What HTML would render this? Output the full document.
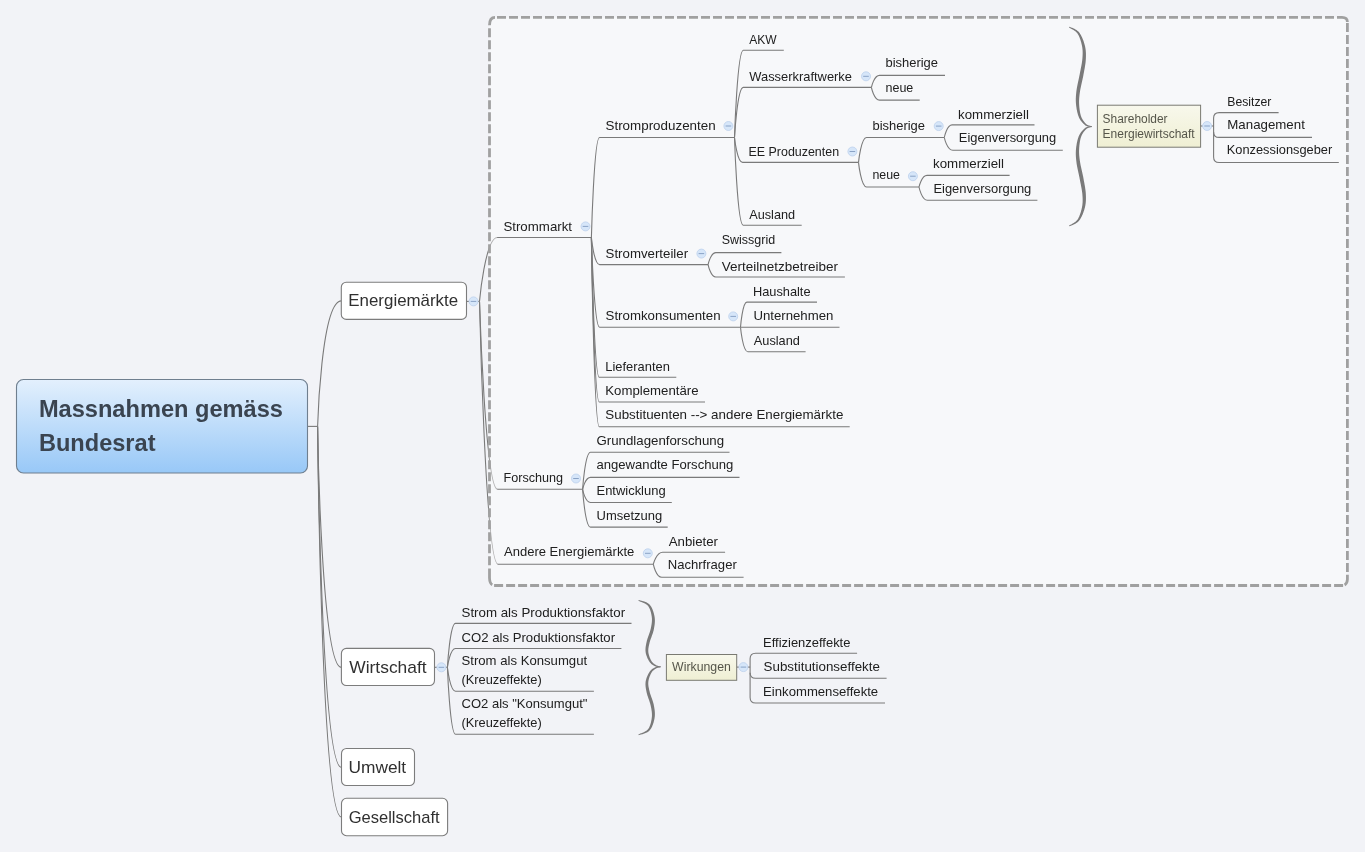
<!DOCTYPE html>
<html><head><meta charset="utf-8"><style>
html,body{margin:0;padding:0;background:#f2f3f7;overflow:hidden;}
svg{display:block;will-change:transform;}
text{font-family:"Liberation Sans",sans-serif;}
</style></head><body>
<svg width="1365" height="852" viewBox="0 0 1365 852">
<rect x="0" y="0" width="1365" height="852" fill="#f2f3f7"/>
<g fill="none" stroke="#7a7a7a" stroke-width="1.1">
<path d="M479.5,301.4 C479.5,301.4 485.2,237.5 497.4,237.5"/>
<path d="M479.5,301.4 C479.5,301.4 485.3,489.3 497.6,489.3"/>
<path d="M479.5,301.4 C479.5,301.4 485.4,564.2 498.0,564.2"/>
</g>
<rect x="489.5" y="17.4" width="857.9" height="568.1" rx="7" fill="#ffffff" fill-opacity="0.42"/><g fill="none" stroke="#a0a0a0" stroke-width="2.8"><path d="M497,17.4 L1337,17.4" stroke-dasharray="9 3"/><path d="M1337,17.4 L1342,17.4 Q1347.4,17.4 1347.4,22" /><path d="M1347.4,22.9 L1347.4,572" stroke-dasharray="9 3"/><path d="M1347.4,574.8 L1347.4,579.5 Q1347.2,583.6 1344.6,584.9" /><path d="M494.1,585.5 L1343.1,585.5" stroke-dasharray="9 3"/><path d="M489.5,28.3 L489.5,565.3" stroke-dasharray="9 3"/><path d="M489.5,568.5 L489.5,578 Q489.7,583.4 492.3,584.8" /><path d="M489.5,25.3 Q489.5,17.4 495,17.4" /></g>
<defs><linearGradient id="mg" x1="0" y1="0" x2="0" y2="1">
<stop offset="0" stop-color="#e3f0fd"/><stop offset="1" stop-color="#98c8f7"/></linearGradient>
<linearGradient id="fg" x1="0" y1="0" x2="0" y2="1"><stop offset="0" stop-color="#f8f8ec"/><stop offset="1" stop-color="#efefd3"/></linearGradient></defs>
<rect x="16.5" y="379.5" width="291" height="93.5" rx="7" ry="7" fill="url(#mg)" stroke="#6f7f8f" stroke-width="1.1"/>
<g fill="none" stroke="#7a7a7a" stroke-width="1.1">
<path d="M308,426.4 L317.6,426.4"/>
<path d="M317.6,426.4 C317.6,426.4 321.2,300.9 341.4,300.9"/>
<path d="M317.6,426.4 C317.6,426.4 321.2,667.4 341.4,667.4"/>
<path d="M317.6,426.4 C317.6,426.4 321.2,767.3 341.4,767.3"/>
<path d="M317.6,426.4 C317.6,426.4 321.2,817.0 341.4,817.0"/>
<path d="M466.5,301.4 L479.5,301.4"/>
<path d="M497.1,237.5 L591.4,237.5"/>
<path d="M497.3,489.3 L582.6,489.3"/>
<path d="M497.7,564.2 L653.3,564.2"/>
<path d="M591.4,237.5 C591.4,237.5 594.0,137.5 599.5,137.5 L734.5,137.5"/>
<path d="M591.4,237.5 C591.4,237.5 594.0,264.6 599.6,264.6 L708.1,264.6"/>
<path d="M591.4,237.5 C591.4,237.5 594.0,327.3 599.6,327.3 L740.5,327.3"/>
<path d="M591.4,237.5 C591.4,237.5 593.9,377.3 599.3,377.3 L676.3,377.3"/>
<path d="M591.4,237.5 C591.4,237.5 593.9,402.0 599.3,402.0 L705.0,402.0"/>
<path d="M591.4,237.5 C591.4,237.5 593.9,426.8 599.3,426.8 L849.7,426.8"/>
<path d="M734.5,137.5 C734.5,137.5 737.3,50.3 743.3,50.3 L783.8,50.3"/>
<path d="M734.5,137.5 C734.5,137.5 737.3,87.4 743.3,87.4 L871.4,87.4"/>
<path d="M734.5,137.5 C734.5,137.5 737.1,162.4 742.5,162.4 L858.5,162.4"/>
<path d="M734.5,137.5 C734.5,137.5 737.3,225.2 743.2,225.2 L801.7,225.2"/>
<path d="M871.4,87.4 C871.4,87.4 874.0,75.4 879.5,75.4 L945.0,75.4"/>
<path d="M871.4,87.4 C871.4,87.4 874.0,100.1 879.5,100.1 L919.7,100.1"/>
<path d="M858.5,162.4 C858.5,162.4 861.1,137.5 866.5,137.5 L944.3,137.5"/>
<path d="M858.5,162.4 C858.5,162.4 861.1,187.0 866.5,187.0 L919.0,187.0"/>
<path d="M944.3,137.5 C944.3,137.5 946.8,124.9 952.1,124.9 L1034.5,124.9"/>
<path d="M944.3,137.5 C944.3,137.5 947.0,150.3 952.8,150.3 L1062.8,150.3"/>
<path d="M919.0,187.0 C919.0,187.0 921.6,175.4 927.0,175.4 L1009.6,175.4"/>
<path d="M919.0,187.0 C919.0,187.0 921.7,200.3 927.4,200.3 L1037.4,200.3"/>
<path d="M708.1,264.6 C708.1,264.6 710.6,252.6 715.8,252.6 L781.4,252.6"/>
<path d="M708.1,264.6 C708.1,264.6 710.6,277.0 715.8,277.0 L844.9,277.0"/>
<path d="M740.5,327.3 C740.5,327.3 742.5,302.1 746.9,302.1 L817.0,302.1"/>
<path d="M740.5,327.3 L839.5,327.3"/>
<path d="M740.5,327.3 C740.5,327.3 742.8,351.7 747.8,351.7 L805.6,351.7"/>
<path d="M582.6,489.3 C582.6,489.3 585.1,452.2 590.5,452.2 L729.5,452.2"/>
<path d="M582.6,489.3 C582.6,489.3 585.1,477.4 590.5,477.4 L739.5,477.4"/>
<path d="M582.6,489.3 C582.6,489.3 585.1,502.5 590.5,502.5 L671.8,502.5"/>
<path d="M582.6,489.3 C582.6,489.3 585.1,527.1 590.5,527.1 L667.7,527.1"/>
<path d="M653.3,564.2 C653.3,564.2 656.3,552.3 662.7,552.3 L725.1,552.3"/>
<path d="M653.3,564.2 C653.3,564.2 656.0,577.3 661.7,577.3 L743.6,577.3"/>
<path d="M434.5,667.3 L447.4,667.3"/>
<path d="M447.4,667.3 C447.4,667.3 450.0,623.4 455.5,623.4 L631.5,623.4"/>
<path d="M447.4,667.3 C447.4,667.3 450.0,648.5 455.5,648.5 L621.4,648.5"/>
<path d="M447.4,667.3 C447.4,667.3 450.0,691.2 455.5,691.2 L593.9,691.2"/>
<path d="M447.4,667.3 C447.4,667.3 450.0,734.2 455.5,734.2 L593.9,734.2"/>
<path d="M1200.6,126.0 L1213.6,126.0"/>
<path d="M1213.6,126.0 L1213.6,118.1 Q1213.6,112.6 1219.1,112.6 L1278.6,112.6"/>
<path d="M1213.6,131.9 Q1213.6,137.4 1219.1,137.4 L1312.0,137.4"/>
<path d="M1213.6,126.0 L1213.6,157.0 Q1213.6,162.5 1219.1,162.5 L1338.8,162.5"/>
<path d="M736.7,667.1 L750.1,667.1"/>
<path d="M750.1,667.1 L750.1,658.8 Q750.1,653.3 755.6,653.3 L857.1,653.3"/>
<path d="M750.1,672.7 Q750.1,678.2 755.6,678.2 L886.6,678.2"/>
<path d="M750.1,667.1 L750.1,697.5 Q750.1,703.0 755.6,703.0 L885.0,703.0"/>
</g>
<rect x="341.3" y="282.2" width="125.2" height="37.2" rx="5" ry="5" fill="#ffffff" stroke="#7c7c7c" stroke-width="1.1"/>
<rect x="341.4" y="648.4" width="93.1" height="37.1" rx="5" ry="5" fill="#ffffff" stroke="#7c7c7c" stroke-width="1.1"/>
<rect x="341.5" y="748.5" width="73.0" height="37.0" rx="5" ry="5" fill="#ffffff" stroke="#7c7c7c" stroke-width="1.1"/>
<rect x="341.5" y="798.3" width="106.1" height="37.4" rx="5" ry="5" fill="#ffffff" stroke="#7c7c7c" stroke-width="1.1"/>
<rect x="1097.4" y="105.2" width="103.2" height="42" fill="url(#fg)" stroke="#7a7a72" stroke-width="1"/>
<rect x="666.4" y="654.5" width="70.3" height="25.8" fill="url(#fg)" stroke="#7a7a72" stroke-width="1"/>
<path d="M1069.00,27.44 L1069.24,27.63 L1069.54,27.82 L1069.89,28.02 L1070.27,28.24 L1070.68,28.46 L1071.12,28.70 L1071.59,28.95 L1072.07,29.22 L1072.57,29.50 L1073.07,29.79 L1073.58,30.10 L1074.09,30.42 L1074.59,30.75 L1075.07,31.10 L1075.54,31.47 L1075.99,31.84 L1076.41,32.23 L1076.80,32.63 L1077.16,33.04 L1077.48,33.46 L1077.78,33.92 L1078.08,34.42 L1078.37,34.95 L1078.66,35.51 L1078.94,36.10 L1079.22,36.71 L1079.48,37.34 L1079.74,37.99 L1079.98,38.65 L1080.22,39.33 L1080.45,40.01 L1080.67,40.70 L1080.88,41.40 L1081.07,42.09 L1081.26,42.79 L1081.44,43.48 L1081.60,44.16 L1081.76,44.83 L1081.90,45.48 L1082.03,46.12 L1082.14,46.75 L1082.25,47.36 L1082.34,47.97 L1082.41,48.57 L1082.48,49.17 L1082.53,49.77 L1082.58,50.37 L1082.61,50.97 L1082.64,51.57 L1082.65,52.18 L1082.66,52.79 L1082.65,53.40 L1082.64,54.02 L1082.62,54.65 L1082.60,55.28 L1082.57,55.93 L1082.53,56.59 L1082.48,57.26 L1082.43,57.94 L1082.38,58.63 L1082.32,59.32 L1082.24,60.01 L1082.16,60.72 L1082.06,61.44 L1081.96,62.17 L1081.84,62.91 L1081.72,63.65 L1081.59,64.41 L1081.45,65.17 L1081.31,65.94 L1081.17,66.72 L1081.01,67.50 L1080.86,68.29 L1080.70,69.08 L1080.55,69.88 L1080.39,70.68 L1080.23,71.49 L1080.07,72.30 L1079.92,73.11 L1079.77,73.92 L1079.61,74.72 L1079.45,75.54 L1079.28,76.37 L1079.11,77.21 L1078.93,78.07 L1078.74,78.93 L1078.55,79.80 L1078.36,80.67 L1078.17,81.55 L1077.98,82.43 L1077.79,83.30 L1077.61,84.18 L1077.43,85.05 L1077.26,85.91 L1077.10,86.76 L1076.95,87.60 L1076.80,88.43 L1076.67,89.25 L1076.55,90.05 L1076.45,90.83 L1076.36,91.58 L1076.28,92.30 L1076.20,93.02 L1076.13,93.71 L1076.06,94.40 L1076.00,95.07 L1075.95,95.74 L1075.91,96.39 L1075.87,97.04 L1075.84,97.69 L1075.82,98.33 L1075.80,98.97 L1075.80,99.60 L1075.80,100.24 L1075.81,100.88 L1075.83,101.52 L1075.86,102.16 L1075.90,102.81 L1075.94,103.46 L1076.00,104.12 L1076.07,104.79 L1076.14,105.47 L1076.23,106.15 L1076.32,106.85 L1076.42,107.54 L1076.52,108.24 L1076.64,108.95 L1076.76,109.65 L1076.90,110.35 L1077.04,111.04 L1077.19,111.73 L1077.35,112.42 L1077.52,113.09 L1077.70,113.75 L1077.88,114.40 L1078.08,115.03 L1078.29,115.65 L1078.50,116.25 L1078.73,116.83 L1078.96,117.39 L1079.21,117.93 L1079.48,118.46 L1079.76,118.97 L1080.06,119.47 L1080.36,119.96 L1080.68,120.43 L1081.00,120.89 L1081.34,121.33 L1081.67,121.76 L1082.02,122.17 L1082.36,122.57 L1082.71,122.95 L1083.06,123.31 L1083.41,123.66 L1083.76,123.99 L1084.11,124.31 L1084.45,124.61 L1084.79,124.89 L1085.11,125.15 L1085.44,125.41 L1085.79,125.65 L1086.16,125.87 L1086.53,126.06 L1086.91,126.22 L1087.28,126.36 L1087.66,126.47 L1088.04,126.57 L1088.40,126.65 L1088.77,126.72 L1089.12,126.77 L1089.46,126.81 L1089.79,126.84 L1090.11,126.87 L1090.40,126.89 L1090.68,126.91 L1090.94,126.92 L1091.17,126.94 L1091.37,126.95 L1091.55,126.97 L1091.70,126.99 L1091.90,126.21 L1091.73,126.15 L1091.53,126.09 L1091.30,126.04 L1091.06,125.99 L1090.81,125.93 L1090.53,125.88 L1090.25,125.83 L1089.95,125.76 L1089.65,125.70 L1089.34,125.62 L1089.02,125.54 L1088.71,125.45 L1088.39,125.34 L1088.08,125.22 L1087.78,125.09 L1087.48,124.95 L1087.19,124.79 L1086.92,124.62 L1086.66,124.43 L1086.40,124.21 L1086.14,123.96 L1085.86,123.69 L1085.57,123.41 L1085.28,123.10 L1084.99,122.78 L1084.70,122.45 L1084.40,122.10 L1084.11,121.74 L1083.82,121.37 L1083.53,120.98 L1083.25,120.58 L1082.97,120.17 L1082.70,119.74 L1082.44,119.31 L1082.19,118.86 L1081.96,118.41 L1081.73,117.95 L1081.51,117.48 L1081.32,117.00 L1081.13,116.51 L1080.96,116.01 L1080.79,115.47 L1080.64,114.92 L1080.49,114.34 L1080.34,113.75 L1080.21,113.13 L1080.08,112.51 L1079.96,111.86 L1079.85,111.21 L1079.75,110.55 L1079.66,109.89 L1079.57,109.21 L1079.49,108.54 L1079.41,107.86 L1079.35,107.19 L1079.29,106.52 L1079.24,105.85 L1079.19,105.19 L1079.15,104.54 L1079.12,103.91 L1079.10,103.28 L1079.08,102.67 L1079.07,102.06 L1079.07,101.46 L1079.08,100.87 L1079.10,100.27 L1079.12,99.68 L1079.15,99.08 L1079.19,98.49 L1079.23,97.89 L1079.28,97.28 L1079.34,96.67 L1079.40,96.05 L1079.47,95.42 L1079.55,94.77 L1079.63,94.11 L1079.72,93.44 L1079.82,92.75 L1079.92,92.05 L1080.03,91.33 L1080.15,90.60 L1080.27,89.85 L1080.42,89.08 L1080.57,88.28 L1080.74,87.47 L1080.91,86.65 L1081.09,85.81 L1081.28,84.96 L1081.47,84.10 L1081.66,83.24 L1081.86,82.37 L1082.06,81.49 L1082.25,80.62 L1082.45,79.74 L1082.64,78.87 L1082.83,78.00 L1083.01,77.14 L1083.18,76.28 L1083.34,75.44 L1083.49,74.61 L1083.64,73.80 L1083.79,73.00 L1083.94,72.19 L1084.08,71.39 L1084.23,70.58 L1084.38,69.78 L1084.53,68.98 L1084.67,68.18 L1084.81,67.38 L1084.94,66.58 L1085.07,65.79 L1085.19,65.00 L1085.31,64.21 L1085.42,63.43 L1085.52,62.65 L1085.61,61.88 L1085.69,61.11 L1085.75,60.35 L1085.81,59.60 L1085.85,58.86 L1085.88,58.14 L1085.91,57.43 L1085.93,56.73 L1085.94,56.05 L1085.95,55.37 L1085.95,54.69 L1085.94,54.03 L1085.93,53.36 L1085.90,52.70 L1085.86,52.05 L1085.82,51.39 L1085.76,50.74 L1085.69,50.09 L1085.61,49.44 L1085.52,48.79 L1085.41,48.13 L1085.29,47.48 L1085.16,46.82 L1085.01,46.15 L1084.85,45.49 L1084.67,44.82 L1084.48,44.13 L1084.28,43.44 L1084.06,42.73 L1083.83,42.02 L1083.59,41.31 L1083.34,40.59 L1083.07,39.87 L1082.79,39.16 L1082.50,38.46 L1082.20,37.76 L1081.89,37.07 L1081.57,36.40 L1081.23,35.74 L1080.89,35.10 L1080.53,34.49 L1080.17,33.90 L1079.79,33.33 L1079.41,32.79 L1079.00,32.28 L1078.57,31.79 L1078.10,31.33 L1077.60,30.89 L1077.07,30.49 L1076.53,30.11 L1075.98,29.76 L1075.41,29.43 L1074.85,29.12 L1074.28,28.83 L1073.72,28.56 L1073.17,28.31 L1072.63,28.08 L1072.11,27.86 L1071.61,27.66 L1071.15,27.48 L1070.71,27.30 L1070.32,27.15 L1069.97,27.00 L1069.66,26.87 L1069.40,26.76Z" fill="#7a7a7a"/>
<path d="M1069.40,226.34 L1069.66,226.23 L1069.97,226.10 L1070.32,225.95 L1070.71,225.80 L1071.15,225.62 L1071.61,225.44 L1072.11,225.24 L1072.63,225.02 L1073.17,224.79 L1073.72,224.54 L1074.28,224.27 L1074.85,223.98 L1075.41,223.67 L1075.98,223.34 L1076.53,222.99 L1077.07,222.61 L1077.60,222.21 L1078.10,221.78 L1078.57,221.32 L1079.00,220.83 L1079.41,220.32 L1079.79,219.78 L1080.17,219.21 L1080.53,218.62 L1080.89,218.00 L1081.23,217.37 L1081.57,216.71 L1081.89,216.04 L1082.20,215.35 L1082.50,214.66 L1082.79,213.95 L1083.07,213.24 L1083.34,212.52 L1083.59,211.81 L1083.83,211.09 L1084.06,210.38 L1084.28,209.68 L1084.48,208.98 L1084.67,208.30 L1084.85,207.63 L1085.01,206.97 L1085.16,206.30 L1085.29,205.65 L1085.41,204.99 L1085.52,204.34 L1085.61,203.69 L1085.69,203.03 L1085.76,202.38 L1085.82,201.73 L1085.86,201.08 L1085.90,200.42 L1085.93,199.76 L1085.94,199.10 L1085.95,198.43 L1085.95,197.76 L1085.94,197.08 L1085.93,196.40 L1085.91,195.70 L1085.88,195.00 L1085.85,194.28 L1085.81,193.53 L1085.75,192.78 L1085.69,192.02 L1085.61,191.26 L1085.52,190.48 L1085.42,189.71 L1085.31,188.93 L1085.19,188.14 L1085.07,187.35 L1084.94,186.56 L1084.81,185.76 L1084.67,184.97 L1084.53,184.17 L1084.38,183.36 L1084.23,182.56 L1084.08,181.76 L1083.94,180.95 L1083.79,180.15 L1083.64,179.35 L1083.49,178.54 L1083.34,177.71 L1083.18,176.87 L1083.01,176.01 L1082.83,175.15 L1082.64,174.28 L1082.45,173.41 L1082.25,172.54 L1082.06,171.66 L1081.86,170.79 L1081.66,169.92 L1081.47,169.05 L1081.28,168.20 L1081.09,167.35 L1080.91,166.51 L1080.74,165.69 L1080.57,164.88 L1080.42,164.09 L1080.27,163.31 L1080.15,162.57 L1080.03,161.84 L1079.92,161.12 L1079.82,160.41 L1079.72,159.72 L1079.63,159.05 L1079.55,158.40 L1079.47,157.75 L1079.40,157.12 L1079.34,156.50 L1079.28,155.89 L1079.23,155.28 L1079.19,154.68 L1079.15,154.09 L1079.12,153.49 L1079.10,152.90 L1079.08,152.31 L1079.07,151.71 L1079.07,151.11 L1079.08,150.51 L1079.10,149.90 L1079.12,149.27 L1079.15,148.64 L1079.19,147.99 L1079.24,147.33 L1079.29,146.66 L1079.35,145.99 L1079.41,145.32 L1079.49,144.64 L1079.57,143.97 L1079.66,143.30 L1079.75,142.63 L1079.85,141.97 L1079.96,141.32 L1080.08,140.68 L1080.21,140.05 L1080.34,139.44 L1080.49,138.85 L1080.64,138.27 L1080.79,137.72 L1080.96,137.18 L1081.13,136.68 L1081.32,136.19 L1081.51,135.71 L1081.73,135.24 L1081.96,134.78 L1082.19,134.33 L1082.44,133.88 L1082.70,133.45 L1082.97,133.03 L1083.25,132.62 L1083.53,132.22 L1083.82,131.83 L1084.11,131.45 L1084.40,131.09 L1084.70,130.75 L1084.99,130.41 L1085.28,130.09 L1085.57,129.79 L1085.86,129.51 L1086.14,129.24 L1086.40,128.99 L1086.66,128.77 L1086.92,128.58 L1087.19,128.41 L1087.48,128.25 L1087.78,128.10 L1088.08,127.97 L1088.39,127.86 L1088.71,127.75 L1089.02,127.66 L1089.34,127.58 L1089.65,127.50 L1089.95,127.44 L1090.25,127.37 L1090.53,127.32 L1090.81,127.27 L1091.06,127.21 L1091.30,127.16 L1091.53,127.11 L1091.73,127.05 L1091.90,126.99 L1091.70,126.21 L1091.55,126.23 L1091.37,126.25 L1091.17,126.26 L1090.94,126.28 L1090.68,126.29 L1090.40,126.31 L1090.11,126.33 L1089.79,126.36 L1089.46,126.39 L1089.12,126.43 L1088.77,126.48 L1088.40,126.55 L1088.04,126.63 L1087.66,126.73 L1087.29,126.84 L1086.91,126.98 L1086.53,127.14 L1086.16,127.33 L1085.79,127.55 L1085.45,127.79 L1085.12,128.04 L1084.79,128.31 L1084.45,128.59 L1084.11,128.89 L1083.76,129.20 L1083.41,129.53 L1083.06,129.88 L1082.71,130.25 L1082.36,130.63 L1082.02,131.02 L1081.67,131.43 L1081.34,131.86 L1081.00,132.30 L1080.68,132.76 L1080.36,133.23 L1080.06,133.72 L1079.76,134.22 L1079.48,134.73 L1079.21,135.26 L1078.96,135.80 L1078.73,136.36 L1078.50,136.94 L1078.29,137.54 L1078.08,138.16 L1077.88,138.79 L1077.70,139.44 L1077.52,140.10 L1077.35,140.77 L1077.19,141.45 L1077.04,142.14 L1076.90,142.83 L1076.76,143.53 L1076.64,144.23 L1076.52,144.94 L1076.42,145.64 L1076.32,146.33 L1076.22,147.03 L1076.14,147.71 L1076.07,148.39 L1076.00,149.06 L1075.94,149.72 L1075.90,150.37 L1075.86,151.02 L1075.83,151.66 L1075.81,152.30 L1075.80,152.93 L1075.80,153.57 L1075.80,154.21 L1075.82,154.84 L1075.84,155.48 L1075.87,156.13 L1075.91,156.78 L1075.95,157.43 L1076.00,158.10 L1076.06,158.77 L1076.13,159.45 L1076.20,160.15 L1076.28,160.86 L1076.36,161.59 L1076.45,162.34 L1076.55,163.11 L1076.67,163.91 L1076.80,164.73 L1076.95,165.56 L1077.10,166.40 L1077.26,167.25 L1077.43,168.11 L1077.61,168.98 L1077.80,169.85 L1077.98,170.73 L1078.17,171.61 L1078.36,172.48 L1078.55,173.35 L1078.74,174.22 L1078.93,175.08 L1079.11,175.94 L1079.28,176.78 L1079.45,177.61 L1079.61,178.43 L1079.77,179.23 L1079.92,180.04 L1080.07,180.85 L1080.23,181.66 L1080.39,182.46 L1080.55,183.26 L1080.70,184.06 L1080.86,184.85 L1081.01,185.64 L1081.17,186.42 L1081.31,187.20 L1081.45,187.97 L1081.59,188.73 L1081.72,189.49 L1081.84,190.23 L1081.96,190.97 L1082.06,191.70 L1082.16,192.41 L1082.24,193.12 L1082.32,193.82 L1082.38,194.51 L1082.43,195.19 L1082.48,195.88 L1082.53,196.54 L1082.57,197.20 L1082.60,197.84 L1082.62,198.48 L1082.64,199.11 L1082.65,199.73 L1082.66,200.34 L1082.65,200.95 L1082.64,201.55 L1082.61,202.15 L1082.58,202.75 L1082.53,203.35 L1082.48,203.95 L1082.41,204.55 L1082.34,205.15 L1082.25,205.76 L1082.14,206.37 L1082.03,206.99 L1081.90,207.63 L1081.76,208.29 L1081.60,208.96 L1081.44,209.64 L1081.26,210.33 L1081.07,211.02 L1080.88,211.72 L1080.67,212.41 L1080.45,213.10 L1080.22,213.79 L1079.98,214.46 L1079.74,215.12 L1079.48,215.77 L1079.22,216.40 L1078.94,217.01 L1078.66,217.60 L1078.37,218.16 L1078.08,218.69 L1077.78,219.19 L1077.48,219.64 L1077.16,220.07 L1076.80,220.48 L1076.42,220.87 L1075.99,221.26 L1075.54,221.64 L1075.07,222.00 L1074.59,222.35 L1074.09,222.68 L1073.58,223.00 L1073.07,223.31 L1072.57,223.60 L1072.07,223.88 L1071.59,224.15 L1071.13,224.40 L1070.68,224.64 L1070.27,224.86 L1069.89,225.08 L1069.55,225.28 L1069.24,225.47 L1069.00,225.66Z" fill="#7a7a7a"/>
<path d="M638.44,600.77 L638.72,600.93 L639.07,601.09 L639.47,601.26 L639.91,601.44 L640.39,601.63 L640.90,601.82 L641.44,602.03 L642.00,602.25 L642.57,602.48 L643.16,602.73 L643.74,602.99 L644.32,603.26 L644.89,603.54 L645.44,603.84 L645.97,604.14 L646.46,604.47 L646.92,604.80 L647.34,605.14 L647.70,605.49 L648.02,605.85 L648.32,606.24 L648.61,606.67 L648.89,607.14 L649.16,607.63 L649.41,608.15 L649.66,608.69 L649.89,609.26 L650.11,609.84 L650.32,610.43 L650.51,611.04 L650.69,611.66 L650.86,612.28 L651.02,612.91 L651.17,613.54 L651.30,614.17 L651.43,614.80 L651.54,615.42 L651.64,616.03 L651.72,616.62 L651.80,617.20 L651.86,617.76 L651.91,618.31 L651.94,618.86 L651.95,619.41 L651.95,619.96 L651.94,620.52 L651.92,621.07 L651.88,621.62 L651.83,622.18 L651.77,622.74 L651.71,623.30 L651.63,623.87 L651.54,624.45 L651.45,625.03 L651.35,625.61 L651.24,626.20 L651.12,626.80 L651.00,627.41 L650.88,628.02 L650.75,628.63 L650.62,629.23 L650.46,629.84 L650.29,630.47 L650.10,631.11 L649.89,631.77 L649.67,632.44 L649.44,633.11 L649.20,633.80 L648.96,634.48 L648.71,635.18 L648.47,635.87 L648.22,636.56 L647.98,637.25 L647.74,637.93 L647.52,638.61 L647.30,639.29 L647.10,639.95 L646.91,640.61 L646.75,641.25 L646.60,641.88 L646.48,642.47 L646.36,643.03 L646.24,643.59 L646.13,644.13 L646.03,644.67 L645.93,645.20 L645.84,645.72 L645.76,646.24 L645.69,646.76 L645.62,647.27 L645.57,647.77 L645.53,648.28 L645.50,648.79 L645.48,649.29 L645.47,649.80 L645.48,650.31 L645.50,650.82 L645.54,651.33 L645.59,651.84 L645.66,652.36 L645.75,652.89 L645.86,653.42 L645.98,653.96 L646.13,654.49 L646.28,655.02 L646.46,655.55 L646.64,656.08 L646.83,656.60 L647.04,657.12 L647.25,657.63 L647.48,658.13 L647.71,658.63 L647.94,659.11 L648.18,659.58 L648.43,660.03 L648.68,660.47 L648.93,660.89 L649.18,661.30 L649.43,661.68 L649.68,662.05 L649.94,662.40 L650.21,662.74 L650.49,663.07 L650.78,663.37 L651.07,663.66 L651.37,663.93 L651.67,664.18 L651.98,664.42 L652.28,664.65 L652.59,664.86 L652.89,665.06 L653.20,665.25 L653.50,665.43 L653.81,665.60 L654.10,665.76 L654.40,665.91 L654.68,666.05 L654.96,666.19 L655.24,666.32 L655.51,666.44 L655.81,666.57 L656.11,666.68 L656.42,666.78 L656.73,666.86 L657.04,666.93 L657.34,666.99 L657.65,667.04 L657.95,667.07 L658.24,667.10 L658.53,667.13 L658.81,667.14 L659.07,667.16 L659.33,667.17 L659.57,667.17 L659.79,667.18 L660.00,667.18 L660.19,667.18 L660.36,667.19 L660.50,667.19 L660.63,667.19 L660.77,666.41 L660.63,666.36 L660.47,666.33 L660.28,666.29 L660.09,666.26 L659.88,666.22 L659.66,666.19 L659.42,666.15 L659.18,666.11 L658.93,666.06 L658.67,666.02 L658.41,665.96 L658.15,665.90 L657.88,665.84 L657.62,665.77 L657.36,665.69 L657.10,665.60 L656.86,665.51 L656.62,665.40 L656.39,665.29 L656.16,665.16 L655.92,665.02 L655.67,664.87 L655.42,664.72 L655.16,664.56 L654.90,664.39 L654.64,664.22 L654.38,664.04 L654.13,663.86 L653.87,663.67 L653.62,663.47 L653.37,663.26 L653.12,663.04 L652.88,662.82 L652.65,662.58 L652.42,662.33 L652.20,662.08 L651.98,661.81 L651.78,661.53 L651.58,661.24 L651.39,660.93 L651.20,660.59 L651.00,660.23 L650.80,659.85 L650.60,659.45 L650.40,659.03 L650.21,658.60 L650.02,658.15 L649.83,657.69 L649.65,657.23 L649.48,656.75 L649.31,656.27 L649.15,655.79 L649.01,655.31 L648.87,654.82 L648.74,654.34 L648.63,653.86 L648.54,653.38 L648.45,652.92 L648.39,652.47 L648.33,652.02 L648.30,651.58 L648.28,651.15 L648.26,650.72 L648.27,650.28 L648.28,649.85 L648.31,649.42 L648.34,648.99 L648.39,648.55 L648.44,648.11 L648.51,647.66 L648.59,647.20 L648.67,646.73 L648.76,646.26 L648.86,645.77 L648.97,645.27 L649.09,644.76 L649.21,644.24 L649.34,643.70 L649.47,643.14 L649.60,642.59 L649.75,642.03 L649.91,641.46 L650.09,640.86 L650.29,640.25 L650.51,639.62 L650.73,638.97 L650.97,638.31 L651.22,637.63 L651.47,636.95 L651.72,636.26 L651.97,635.56 L652.22,634.86 L652.47,634.15 L652.71,633.45 L652.94,632.74 L653.15,632.04 L653.36,631.34 L653.54,630.64 L653.71,629.95 L653.85,629.28 L653.98,628.63 L654.09,628.00 L654.21,627.37 L654.31,626.75 L654.41,626.12 L654.51,625.50 L654.59,624.88 L654.67,624.26 L654.73,623.65 L654.79,623.03 L654.83,622.41 L654.87,621.79 L654.89,621.17 L654.89,620.55 L654.88,619.93 L654.85,619.31 L654.81,618.68 L654.75,618.05 L654.67,617.43 L654.57,616.80 L654.46,616.17 L654.33,615.54 L654.19,614.89 L654.04,614.23 L653.87,613.57 L653.69,612.90 L653.50,612.23 L653.29,611.57 L653.06,610.90 L652.82,610.24 L652.57,609.59 L652.30,608.95 L652.01,608.33 L651.71,607.72 L651.39,607.12 L651.05,606.55 L650.69,606.00 L650.32,605.48 L649.93,604.98 L649.51,604.51 L649.05,604.07 L648.53,603.65 L647.99,603.28 L647.41,602.93 L646.81,602.61 L646.20,602.32 L645.57,602.05 L644.93,601.81 L644.29,601.58 L643.66,601.37 L643.03,601.18 L642.42,601.01 L641.83,600.85 L641.26,600.70 L640.73,600.56 L640.24,600.44 L639.79,600.32 L639.39,600.22 L639.05,600.12 L638.76,600.03Z" fill="#7a7a7a"/>
<path d="M638.76,735.17 L639.05,735.08 L639.39,734.98 L639.79,734.87 L640.24,734.75 L640.74,734.62 L641.27,734.48 L641.83,734.32 L642.42,734.16 L643.04,733.98 L643.66,733.78 L644.30,733.57 L644.94,733.33 L645.57,733.08 L646.20,732.81 L646.82,732.51 L647.42,732.18 L647.99,731.83 L648.54,731.44 L649.05,731.02 L649.51,730.56 L649.93,730.08 L650.32,729.57 L650.70,729.04 L651.05,728.47 L651.39,727.89 L651.71,727.28 L652.01,726.66 L652.29,726.02 L652.57,725.36 L652.82,724.70 L653.06,724.03 L653.29,723.35 L653.50,722.66 L653.69,721.98 L653.87,721.30 L654.04,720.62 L654.19,719.95 L654.33,719.29 L654.46,718.64 L654.57,718.00 L654.67,717.36 L654.75,716.71 L654.81,716.07 L654.85,715.43 L654.88,714.80 L654.89,714.16 L654.88,713.53 L654.87,712.90 L654.83,712.26 L654.79,711.63 L654.73,711.00 L654.67,710.37 L654.59,709.74 L654.51,709.10 L654.41,708.47 L654.31,707.83 L654.21,707.19 L654.09,706.55 L653.98,705.90 L653.85,705.24 L653.71,704.56 L653.54,703.85 L653.36,703.14 L653.16,702.42 L652.94,701.70 L652.71,700.98 L652.47,700.26 L652.23,699.54 L651.98,698.82 L651.72,698.10 L651.47,697.39 L651.22,696.69 L650.98,696.00 L650.74,695.33 L650.51,694.66 L650.30,694.01 L650.10,693.38 L649.91,692.77 L649.75,692.19 L649.61,691.61 L649.47,691.04 L649.34,690.47 L649.21,689.92 L649.09,689.39 L648.97,688.86 L648.86,688.35 L648.76,687.85 L648.67,687.36 L648.59,686.89 L648.51,686.42 L648.44,685.95 L648.39,685.50 L648.34,685.05 L648.30,684.60 L648.28,684.16 L648.26,683.71 L648.26,683.27 L648.27,682.82 L648.30,682.38 L648.33,681.93 L648.38,681.47 L648.45,681.00 L648.53,680.52 L648.63,680.04 L648.74,679.55 L648.87,679.05 L649.00,678.55 L649.15,678.06 L649.31,677.56 L649.48,677.07 L649.65,676.58 L649.83,676.10 L650.02,675.64 L650.21,675.18 L650.40,674.73 L650.60,674.31 L650.80,673.90 L651.00,673.50 L651.20,673.13 L651.39,672.79 L651.58,672.47 L651.78,672.17 L651.99,671.88 L652.20,671.61 L652.42,671.35 L652.65,671.09 L652.89,670.85 L653.13,670.62 L653.37,670.40 L653.62,670.19 L653.88,669.98 L654.13,669.79 L654.39,669.60 L654.65,669.42 L654.91,669.24 L655.16,669.07 L655.42,668.91 L655.68,668.75 L655.93,668.60 L656.17,668.45 L656.39,668.33 L656.62,668.21 L656.86,668.10 L657.11,668.01 L657.36,667.92 L657.62,667.84 L657.89,667.77 L658.15,667.70 L658.41,667.64 L658.67,667.59 L658.93,667.54 L659.18,667.49 L659.42,667.45 L659.66,667.42 L659.88,667.38 L660.09,667.34 L660.29,667.31 L660.47,667.27 L660.63,667.24 L660.77,667.19 L660.63,666.41 L660.50,666.41 L660.36,666.42 L660.19,666.42 L660.00,666.42 L659.79,666.43 L659.57,666.43 L659.33,666.44 L659.07,666.45 L658.80,666.46 L658.53,666.48 L658.24,666.50 L657.95,666.54 L657.65,666.58 L657.34,666.63 L657.03,666.68 L656.73,666.76 L656.42,666.84 L656.11,666.94 L655.80,667.06 L655.51,667.19 L655.23,667.32 L654.96,667.45 L654.68,667.59 L654.39,667.74 L654.10,667.89 L653.80,668.05 L653.50,668.23 L653.20,668.41 L652.89,668.60 L652.58,668.81 L652.28,669.03 L651.97,669.26 L651.67,669.51 L651.37,669.77 L651.07,670.05 L650.78,670.34 L650.49,670.65 L650.21,670.98 L649.94,671.33 L649.68,671.69 L649.43,672.07 L649.18,672.46 L648.93,672.88 L648.68,673.31 L648.43,673.76 L648.18,674.22 L647.94,674.70 L647.71,675.19 L647.48,675.70 L647.25,676.21 L647.04,676.73 L646.83,677.26 L646.64,677.80 L646.46,678.34 L646.29,678.88 L646.13,679.42 L645.99,679.97 L645.86,680.51 L645.75,681.06 L645.66,681.59 L645.59,682.12 L645.54,682.65 L645.50,683.17 L645.48,683.69 L645.47,684.21 L645.48,684.73 L645.50,685.24 L645.53,685.76 L645.57,686.28 L645.62,686.79 L645.69,687.32 L645.76,687.84 L645.84,688.37 L645.93,688.91 L646.03,689.45 L646.13,690.00 L646.24,690.56 L646.35,691.12 L646.47,691.70 L646.60,692.31 L646.74,692.94 L646.91,693.60 L647.10,694.27 L647.30,694.95 L647.51,695.64 L647.74,696.34 L647.98,697.04 L648.22,697.75 L648.46,698.45 L648.71,699.16 L648.96,699.87 L649.20,700.57 L649.44,701.27 L649.67,701.97 L649.89,702.65 L650.09,703.33 L650.29,703.99 L650.46,704.63 L650.62,705.26 L650.75,705.88 L650.88,706.50 L651.00,707.13 L651.12,707.75 L651.24,708.36 L651.35,708.97 L651.45,709.57 L651.54,710.16 L651.63,710.75 L651.71,711.34 L651.78,711.91 L651.83,712.49 L651.88,713.06 L651.92,713.63 L651.94,714.20 L651.95,714.77 L651.95,715.33 L651.94,715.90 L651.91,716.46 L651.86,717.03 L651.80,717.60 L651.73,718.20 L651.64,718.81 L651.54,719.43 L651.43,720.07 L651.30,720.71 L651.17,721.36 L651.02,722.00 L650.87,722.65 L650.70,723.29 L650.51,723.92 L650.32,724.55 L650.11,725.16 L649.89,725.75 L649.66,726.33 L649.41,726.89 L649.16,727.42 L648.89,727.93 L648.61,728.40 L648.31,728.85 L648.02,729.25 L647.70,729.62 L647.33,729.98 L646.92,730.33 L646.46,730.66 L645.96,730.99 L645.43,731.31 L644.88,731.61 L644.31,731.90 L643.74,732.17 L643.15,732.44 L642.57,732.69 L642.00,732.92 L641.44,733.15 L640.90,733.36 L640.39,733.56 L639.91,733.75 L639.47,733.93 L639.07,734.11 L638.72,734.27 L638.44,734.43Z" fill="#7a7a7a"/>
<circle cx="473.5" cy="301.4" r="4.5" fill="#d6e6f9" stroke="#bcd0ec" stroke-width="0.8"/><line x1="470.7" y1="301.4" x2="476.3" y2="301.4" stroke="#8aa3c6" stroke-width="1"/>
<circle cx="585.5" cy="226.4" r="4.5" fill="#d6e6f9" stroke="#bcd0ec" stroke-width="0.8"/><line x1="582.7" y1="226.4" x2="588.3" y2="226.4" stroke="#8aa3c6" stroke-width="1"/>
<circle cx="576.0" cy="478.5" r="4.5" fill="#d6e6f9" stroke="#bcd0ec" stroke-width="0.8"/><line x1="573.2" y1="478.5" x2="578.8" y2="478.5" stroke="#8aa3c6" stroke-width="1"/>
<circle cx="647.8" cy="553.3" r="4.5" fill="#d6e6f9" stroke="#bcd0ec" stroke-width="0.8"/><line x1="645.0" y1="553.3" x2="650.6" y2="553.3" stroke="#8aa3c6" stroke-width="1"/>
<circle cx="728.4" cy="126.0" r="4.5" fill="#d6e6f9" stroke="#bcd0ec" stroke-width="0.8"/><line x1="725.6" y1="126.0" x2="731.2" y2="126.0" stroke="#8aa3c6" stroke-width="1"/>
<circle cx="701.4" cy="253.6" r="4.5" fill="#d6e6f9" stroke="#bcd0ec" stroke-width="0.8"/><line x1="698.6" y1="253.6" x2="704.2" y2="253.6" stroke="#8aa3c6" stroke-width="1"/>
<circle cx="733.2" cy="316.4" r="4.5" fill="#d6e6f9" stroke="#bcd0ec" stroke-width="0.8"/><line x1="730.4" y1="316.4" x2="736.0" y2="316.4" stroke="#8aa3c6" stroke-width="1"/>
<circle cx="866.0" cy="76.3" r="4.5" fill="#d6e6f9" stroke="#bcd0ec" stroke-width="0.8"/><line x1="863.2" y1="76.3" x2="868.8" y2="76.3" stroke="#8aa3c6" stroke-width="1"/>
<circle cx="852.4" cy="151.5" r="4.5" fill="#d6e6f9" stroke="#bcd0ec" stroke-width="0.8"/><line x1="849.6" y1="151.5" x2="855.2" y2="151.5" stroke="#8aa3c6" stroke-width="1"/>
<circle cx="938.7" cy="126.1" r="4.5" fill="#d6e6f9" stroke="#bcd0ec" stroke-width="0.8"/><line x1="935.9" y1="126.1" x2="941.5" y2="126.1" stroke="#8aa3c6" stroke-width="1"/>
<circle cx="912.9" cy="176.2" r="4.5" fill="#d6e6f9" stroke="#bcd0ec" stroke-width="0.8"/><line x1="910.1" y1="176.2" x2="915.7" y2="176.2" stroke="#8aa3c6" stroke-width="1"/>
<circle cx="441.4" cy="667.3" r="4.5" fill="#d6e6f9" stroke="#bcd0ec" stroke-width="0.8"/><line x1="438.6" y1="667.3" x2="444.2" y2="667.3" stroke="#8aa3c6" stroke-width="1"/>
<circle cx="1207.1" cy="126.0" r="4.5" fill="#d6e6f9" stroke="#bcd0ec" stroke-width="0.8"/><line x1="1204.3" y1="126.0" x2="1209.9" y2="126.0" stroke="#8aa3c6" stroke-width="1"/>
<circle cx="743.4" cy="667.1" r="4.5" fill="#d6e6f9" stroke="#bcd0ec" stroke-width="0.8"/><line x1="740.6" y1="667.1" x2="746.2" y2="667.1" stroke="#8aa3c6" stroke-width="1"/>
<text x="348.30" y="305.5" font-size="17" fill="#303030" textLength="109.87" lengthAdjust="spacingAndGlyphs">Energiemärkte</text>
<text x="349.30" y="673.0" font-size="17" fill="#303030" textLength="77.30" lengthAdjust="spacingAndGlyphs">Wirtschaft</text>
<text x="348.50" y="773.1" font-size="17" fill="#303030" textLength="57.68" lengthAdjust="spacingAndGlyphs">Umwelt</text>
<text x="348.70" y="823.2" font-size="17" fill="#303030" textLength="90.96" lengthAdjust="spacingAndGlyphs">Gesellschaft</text>
<text x="503.40" y="231.1" font-size="13.2" fill="#202020" textLength="68.63" lengthAdjust="spacingAndGlyphs">Strommarkt</text>
<text x="503.60" y="481.5" font-size="13.2" fill="#202020" textLength="59.50" lengthAdjust="spacingAndGlyphs">Forschung</text>
<text x="504.00" y="556.4" font-size="13.2" fill="#202020" textLength="130.31" lengthAdjust="spacingAndGlyphs">Andere Energiemärkte</text>
<text x="605.50" y="129.6" font-size="13.2" fill="#202020" textLength="110.13" lengthAdjust="spacingAndGlyphs">Stromproduzenten</text>
<text x="605.60" y="258.0" font-size="13.2" fill="#202020" textLength="82.49" lengthAdjust="spacingAndGlyphs">Stromverteiler</text>
<text x="605.60" y="320.2" font-size="13.2" fill="#202020" textLength="114.92" lengthAdjust="spacingAndGlyphs">Stromkonsumenten</text>
<text x="605.30" y="370.9" font-size="13.2" fill="#202020" textLength="64.59" lengthAdjust="spacingAndGlyphs">Lieferanten</text>
<text x="605.30" y="394.5" font-size="13.2" fill="#202020" textLength="93.19" lengthAdjust="spacingAndGlyphs">Komplementäre</text>
<text x="605.30" y="419.0" font-size="13.2" fill="#202020" textLength="238.02" lengthAdjust="spacingAndGlyphs">Substituenten --&gt; andere Energiemärkte</text>
<text x="749.30" y="43.5" font-size="13.2" fill="#202020" textLength="27.37" lengthAdjust="spacingAndGlyphs">AKW</text>
<text x="749.30" y="80.6" font-size="13.2" fill="#202020" textLength="102.69" lengthAdjust="spacingAndGlyphs">Wasserkraftwerke</text>
<text x="748.50" y="155.6" font-size="13.2" fill="#202020" textLength="90.57" lengthAdjust="spacingAndGlyphs">EE Produzenten</text>
<text x="749.20" y="218.5" font-size="13.2" fill="#202020" textLength="45.89" lengthAdjust="spacingAndGlyphs">Ausland</text>
<text x="885.50" y="67.2" font-size="13.2" fill="#202020" textLength="52.48" lengthAdjust="spacingAndGlyphs">bisherige</text>
<text x="885.50" y="91.9" font-size="13.2" fill="#202020" textLength="27.80" lengthAdjust="spacingAndGlyphs">neue</text>
<text x="872.50" y="129.5" font-size="13.2" fill="#202020" textLength="52.48" lengthAdjust="spacingAndGlyphs">bisherige</text>
<text x="872.50" y="179.3" font-size="13.2" fill="#202020" textLength="27.50" lengthAdjust="spacingAndGlyphs">neue</text>
<text x="958.10" y="118.9" font-size="13.2" fill="#202020" textLength="70.79" lengthAdjust="spacingAndGlyphs">kommerziell</text>
<text x="958.80" y="142.3" font-size="13.2" fill="#202020" textLength="97.41" lengthAdjust="spacingAndGlyphs">Eigenversorgung</text>
<text x="933.00" y="168.4" font-size="13.2" fill="#202020" textLength="70.99" lengthAdjust="spacingAndGlyphs">kommerziell</text>
<text x="933.40" y="192.6" font-size="13.2" fill="#202020" textLength="97.91" lengthAdjust="spacingAndGlyphs">Eigenversorgung</text>
<text x="721.80" y="244.4" font-size="13.2" fill="#202020" textLength="53.29" lengthAdjust="spacingAndGlyphs">Swissgrid</text>
<text x="721.80" y="270.7" font-size="13.2" fill="#202020" textLength="116.22" lengthAdjust="spacingAndGlyphs">Verteilnetzbetreiber</text>
<text x="752.90" y="295.9" font-size="13.2" fill="#202020" textLength="57.67" lengthAdjust="spacingAndGlyphs">Haushalte</text>
<text x="753.40" y="320.2" font-size="13.2" fill="#202020" textLength="79.99" lengthAdjust="spacingAndGlyphs">Unternehmen</text>
<text x="753.80" y="345.4" font-size="13.2" fill="#202020" textLength="46.09" lengthAdjust="spacingAndGlyphs">Ausland</text>
<text x="596.50" y="444.6" font-size="13.2" fill="#202020" textLength="127.57" lengthAdjust="spacingAndGlyphs">Grundlagenforschung</text>
<text x="596.50" y="469.2" font-size="13.2" fill="#202020" textLength="136.83" lengthAdjust="spacingAndGlyphs">angewandte Forschung</text>
<text x="596.50" y="494.9" font-size="13.2" fill="#202020" textLength="69.11" lengthAdjust="spacingAndGlyphs">Entwicklung</text>
<text x="596.50" y="519.5" font-size="13.2" fill="#202020" textLength="65.67" lengthAdjust="spacingAndGlyphs">Umsetzung</text>
<text x="668.70" y="545.5" font-size="13.2" fill="#202020" textLength="49.30" lengthAdjust="spacingAndGlyphs">Anbieter</text>
<text x="667.70" y="569.3" font-size="13.2" fill="#202020" textLength="69.10" lengthAdjust="spacingAndGlyphs">Nachrfrager</text>
<text x="461.50" y="616.6" font-size="13.2" fill="#202020" textLength="163.57" lengthAdjust="spacingAndGlyphs">Strom als Produktionsfaktor</text>
<text x="461.50" y="641.7" font-size="13.2" fill="#202020" textLength="153.53" lengthAdjust="spacingAndGlyphs">CO2 als Produktionsfaktor</text>
<text x="461.50" y="665.1" font-size="13.2" fill="#202020" textLength="125.60" lengthAdjust="spacingAndGlyphs">Strom als Konsumgut</text>
<text x="461.50" y="683.8" font-size="13.2" fill="#202020" textLength="80.23" lengthAdjust="spacingAndGlyphs">(Kreuzeffekte)</text>
<text x="461.50" y="707.6" font-size="13.2" fill="#202020" textLength="125.99" lengthAdjust="spacingAndGlyphs">CO2 als &quot;Konsumgut&quot;</text>
<text x="461.50" y="726.5" font-size="13.2" fill="#202020" textLength="80.23" lengthAdjust="spacingAndGlyphs">(Kreuzeffekte)</text>
<text x="1102.60" y="122.9" font-size="12.3" fill="#55554a" textLength="64.98" lengthAdjust="spacingAndGlyphs">Shareholder</text>
<text x="1102.60" y="138.0" font-size="12.3" fill="#55554a" textLength="92.10" lengthAdjust="spacingAndGlyphs">Energiewirtschaft</text>
<text x="672.10" y="670.8" font-size="12.3" fill="#55554a" textLength="58.70" lengthAdjust="spacingAndGlyphs">Wirkungen</text>
<text x="1227.30" y="105.6" font-size="13.2" fill="#202020" textLength="44.13" lengthAdjust="spacingAndGlyphs">Besitzer</text>
<text x="1227.30" y="129.1" font-size="13.2" fill="#202020" textLength="77.53" lengthAdjust="spacingAndGlyphs">Management</text>
<text x="1226.80" y="154.2" font-size="13.2" fill="#202020" textLength="105.37" lengthAdjust="spacingAndGlyphs">Konzessionsgeber</text>
<text x="763.10" y="646.6" font-size="13.2" fill="#202020" textLength="87.30" lengthAdjust="spacingAndGlyphs">Effizienzeffekte</text>
<text x="763.60" y="671.3" font-size="13.2" fill="#202020" textLength="116.29" lengthAdjust="spacingAndGlyphs">Substitutionseffekte</text>
<text x="763.10" y="695.8" font-size="13.2" fill="#202020" textLength="115.09" lengthAdjust="spacingAndGlyphs">Einkommenseffekte</text>
<text x="38.90" y="416.8" font-size="23.6" fill="#3a4450" font-weight="bold" textLength="244.06" lengthAdjust="spacingAndGlyphs">Massnahmen gemäss</text>
<text x="38.90" y="451.2" font-size="23.6" fill="#3a4450" font-weight="bold" textLength="116.61" lengthAdjust="spacingAndGlyphs">Bundesrat</text>
</svg>
</body></html>
